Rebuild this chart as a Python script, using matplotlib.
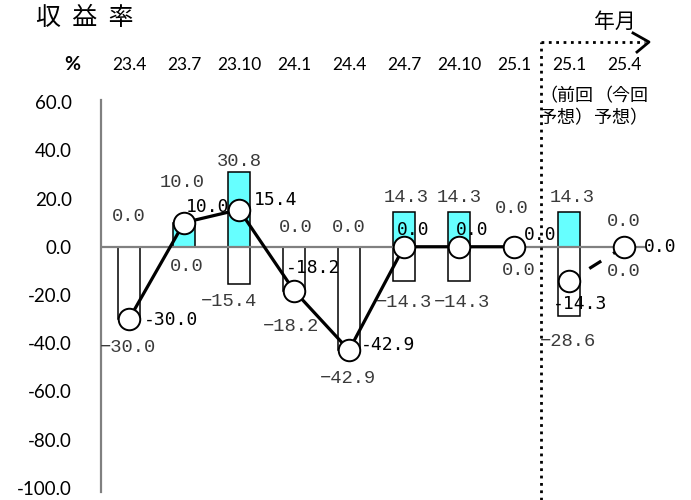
import matplotlib.pyplot as plt
import numpy as np

plt.rcParams['font.family'] = ['Lato', 'Noto Sans CJK JP', 'DejaVu Sans']

# data
periods = ['23.4', '23.7', '23.10', '24.1', '24.4', '24.7', '24.10', '25.1', '25.1', '25.4']
sub1 = ['', '', '', '', '', '', '', '', '（前回', '（今回']
sub2 = ['', '', '', '', '', '', '', '', '予想）', '予想）']
pos_vals = [0.0, 10.0, 30.8, 0.0, 0.0, 14.3, 14.3, 0.0, 14.3, 0.0]
neg_vals = [-30.0, 0.0, -15.4, -18.2, -42.9, -14.3, -14.3, 0.0, -28.6, 0.0]
rate = [-30.0, 10.0, 15.4, -18.2, -42.9, 0.0, 0.0, 0.0, -14.3, 0.0]
yticks = [60, 40, 20, 0, -20, -40, -60, -80, -100]

# label offsets in pixels (dx, dy), picked by eye
pos_off = [(0, 30), (-2, 40), (0, 11), (2, 19), (0, 19), (2, 15), (0, 15), (-2, 38), (3, 15), (0, 25)]
neg_off = [(-1, -28), (3, -20), (-10, -18), (-3, -36), (-1, -28), (0, -21), (3, -21), (5, -24), (-1, -26), (0, -25)]
line_off = [(42, -1), (24, 16), (37, 10), (19, 23), (39, 5), (9, 17), (13, 17), (26, 12), (11, -23), (36, 0)]

x = np.arange(len(periods))
cyan = '#66FFFF'
gray = '#808080'

fig = plt.figure(figsize=(6.91, 5), dpi=100)
ax = fig.add_axes([101 / 691, 8.4 / 500, 545 / 691, 392 / 500])

ax.bar(x, pos_vals, width=0.4, color=cyan, edgecolor='black', linewidth=1.1, zorder=2)
ax.bar(x, neg_vals, width=0.4, color='white', edgecolor='black', linewidth=1.1, zorder=2)
ax.axhline(0, color=gray, lw=1.6, zorder=3)

# solid line for the actual values, dashed for the forecast pair
ax.plot(x[:8], rate[:8], color='black', lw=2.3, zorder=4)
ax.plot(x[8:], rate[8:], color='black', lw=2.3, zorder=4, linestyle=(1.3, (4.4, 4.4)))
ax.plot(x, rate, linestyle='none', marker='o', ms=15.5, mfc='white', mec='black', mew=1.4, zorder=6)

for i in range(len(x)):
    ax.annotate(f"{pos_vals[i]:.1f}", (x[i], pos_vals[i]), xytext=pos_off[i], textcoords='offset pixels',
                ha='center', va='center', fontsize=13.5, family='Liberation Mono', color='#3a3a3a', zorder=3)
    ax.annotate(f"{neg_vals[i]:.1f}".replace('-', '−'), (x[i], neg_vals[i]), xytext=neg_off[i],
                textcoords='offset pixels', ha='center', va='center', fontsize=13.5, family='Liberation Mono',
                color='#3a3a3a', zorder=3)
    ax.annotate(f"{rate[i]:.1f}", (x[i], rate[i]), xytext=line_off[i], textcoords='offset pixels',
                ha='center', va='center', fontsize=13, family='DejaVu Sans Mono', color='black', zorder=5)

ax.set_xlim(-0.51, 9.4)
ax.set_ylim(-101.5, 61)
ax.set_yticks(yticks)
ax.set_yticklabels([f"{v:.1f}" for v in yticks], fontsize=13.5)
ax.tick_params(axis='y', length=0, pad=21)
ax.set_xticks([])
for s in ['top', 'right', 'bottom']:
    ax.spines[s].set_visible(False)
ax.spines['left'].set_color(gray)
ax.spines['left'].set_linewidth(1.6)

# period labels above the plot
for i in range(len(x)):
    xf = (129 + 55 * i) / 691
    fig.text(xf, 1 - 65 / 500, periods[i], ha='center', va='center', fontsize=12.5)
    if sub1[i]:
        fig.text(xf - 3 / 691, 1 - 96 / 500, sub1[i], ha='center', va='center', fontsize=13,
                 family=['Noto Sans CJK JP'])
        fig.text(xf - 3 / 691, 1 - 118 / 500, sub2[i], ha='center', va='center', fontsize=13,
                 family=['Noto Sans CJK JP'])
fig.text(72 / 691, 1 - 65 / 500, '%', ha='center', va='center', fontsize=14, weight='bold')
fig.text(85 / 691, 1 - 18 / 500, '収  益  率', ha='center', va='center', fontsize=18,
         family=['Noto Sans CJK JP'])
fig.text(615 / 691, 1 - 22 / 500, '年月', ha='center', va='center', fontsize=15,
         family=['Noto Sans CJK JP'])

# forecast divider with arrow
fig.add_artist(plt.Line2D([541 / 691, 541 / 691], [0, 1 - 42 / 500], color='black', lw=2, ls=':'))
fig.add_artist(plt.Line2D([541 / 691, 645 / 691], [1 - 42 / 500, 1 - 42 / 500], color='black', lw=2, ls=':'))
fig.add_artist(plt.Line2D([633 / 691, 649 / 691, 637 / 691], [1 - 33 / 500, 1 - 42 / 500, 1 - 52 / 500],
                          color='black', lw=2))

fig.savefig('out.png', dpi=100)
